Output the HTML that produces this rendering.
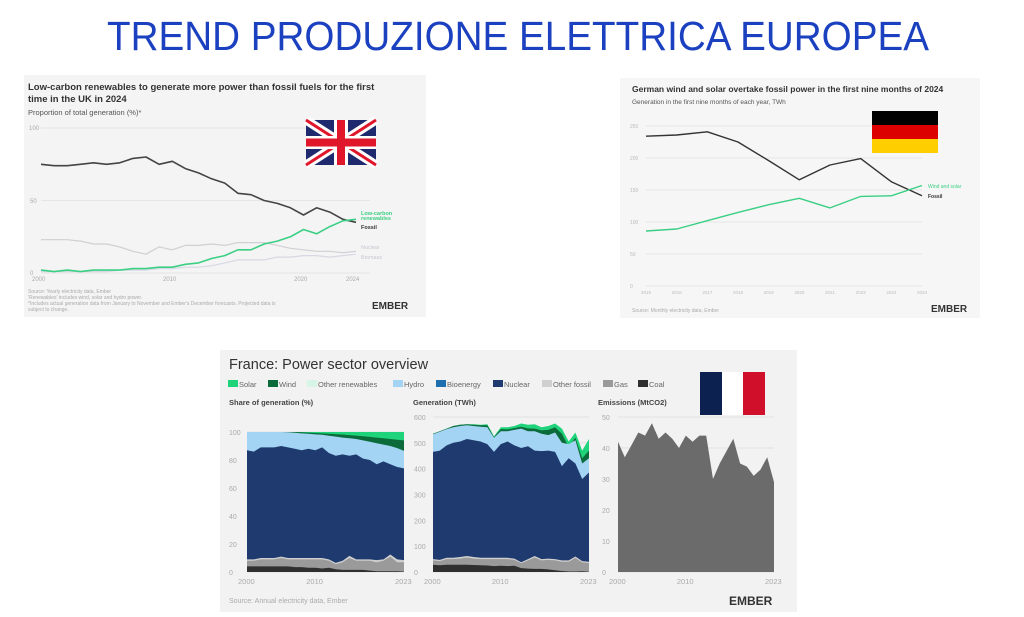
<!DOCTYPE html>
<html><head><meta charset="utf-8"><style>
html,body{margin:0;padding:0;background:#fff;}
svg{display:block;font-family:"Liberation Sans",sans-serif;}
</style></head><body>
<svg id="s" width="1024" height="617" viewBox="0 0 1024 617" xmlns="http://www.w3.org/2000/svg">
<rect width="1024" height="617" fill="#fff"/>
<text x="518" y="50" text-anchor="middle" font-size="41" fill="#1b40c0" textLength="822" lengthAdjust="spacingAndGlyphs">TREND PRODUZIONE ELETTRICA EUROPEA</text>

<rect x="24" y="75" width="402" height="242" fill="#f4f4f4"/>
<text x="28" y="90" font-size="9.5" font-weight="bold" fill="#333">Low-carbon renewables to generate more power than fossil fuels for the first</text>
<text x="28" y="102" font-size="9.5" font-weight="bold" fill="#333">time in the UK in 2024</text>
<text x="28" y="115" font-size="7.5" fill="#555">Proportion of total generation (%)*</text>
<g stroke="#e0e0e0" stroke-width="0.8"><line x1="41" y1="128" x2="370" y2="128"/><line x1="41" y1="200.5" x2="370" y2="200.5"/><line x1="41" y1="273" x2="370" y2="273"/></g>
<g font-size="6" fill="#aaa"><text x="29" y="130">100</text><text x="30" y="203">50</text><text x="30" y="275">0</text>
<text x="32" y="281">2000</text><text x="163" y="281">2010</text><text x="294" y="281">2020</text><text x="346" y="281">2024</text></g>
<g id="uk"></g>
<g font-size="5.5" font-weight="bold"><text x="361" y="215" fill="#3bcf84">Low-carbon</text><text x="361" y="220" fill="#3bcf84">renewables</text><text x="361" y="229" fill="#333">Fossil</text></g>
<g font-size="5.5" fill="#c8c8d0"><text x="361" y="249">Nuclear</text><text x="361" y="259">Biomass</text></g>
<g font-size="5" fill="#aaa"><text x="28" y="293">Source: Yearly electricity data, Ember</text><text x="28" y="299">'Renewables' includes wind, solar and hydro power.</text><text x="28" y="305">*Includes actual generation data from January to November and Ember's December forecasts. Projected data is</text><text x="28" y="311">subject to change.</text></g>
<text x="372" y="309" font-size="10" font-weight="bold" fill="#333">EMBER</text>
<g transform="translate(306,120)">
<rect width="70" height="45" fill="#1f2a6e"/>
<path d="M0 0L70 45M70 0L0 45" stroke="#fff" stroke-width="9"/>
<path d="M0 0L70 45M70 0L0 45" stroke="#e0162b" stroke-width="3"/>
<rect x="28" width="14" height="45" fill="#fff"/><rect y="16" width="70" height="13" fill="#fff"/>
<rect x="31" width="8" height="45" fill="#e0162b"/><rect y="18.5" width="70" height="8" fill="#e0162b"/>
</g>

<rect x="620" y="78" width="360" height="240" fill="#f6f6f6"/>
<text x="632" y="92" font-size="8.5" font-weight="bold" fill="#333">German wind and solar overtake fossil power in the first nine months of 2024</text>
<text x="632" y="104" font-size="6.5" fill="#555">Generation in the first nine months of each year, TWh</text>
<g id="deg" stroke="#e2e2e2" stroke-width="0.8"></g>
<g id="de"></g>
<g font-size="5" fill="#3bcf84"><text x="928" y="188">Wind and solar</text></g>
<text x="928" y="198" font-size="5" font-weight="bold" fill="#333">Fossil</text>
<text x="632" y="312" font-size="5" fill="#aaa">Source: Monthly electricity data, Ember</text>
<text x="931" y="312" font-size="10" font-weight="bold" fill="#333">EMBER</text>
<g transform="translate(872,111)"><rect width="66" height="14" fill="#000"/><rect y="14" width="66" height="14" fill="#dd0000"/><rect y="28" width="66" height="14" fill="#ffce00"/></g>

<rect x="220" y="350" width="577" height="262" fill="#f2f2f2"/>
<text x="229" y="369" font-size="14.5" fill="#333">France: Power sector overview</text>
<g font-size="7.5" fill="#666" id="leg"></g>
<g font-size="7.5" font-weight="bold" fill="#444"><text x="229" y="405">Share of generation (%)</text><text x="413" y="405">Generation (TWh)</text><text x="598" y="405">Emissions (MtCO2)</text></g>
<g id="fr"></g>
<text x="229" y="603" font-size="7" fill="#aaa">Source: Annual electricity data, Ember</text>
<text x="729" y="605" font-size="12" font-weight="bold" fill="#333">EMBER</text>
<g transform="translate(700,372)"><rect width="22" height="43" fill="#0d2150"/><rect x="22" width="21" height="43" fill="#fff"/><rect x="43" width="22" height="43" fill="#d0102a"/></g>
</svg>
<script>
var NS="http://www.w3.org/2000/svg";
function el(p,t,a,txt){var e=document.createElementNS(NS,t);for(var k in a)e.setAttribute(k,a[k]);if(txt!==undefined)e.textContent=txt;document.getElementById(p).appendChild(e);return e;}
function line(p,vals,x0,x1,y0,y1,max,col,w){var n=vals.length,pts=vals.map(function(v,i){return (x0+(x1-x0)*i/(n-1)).toFixed(1)+","+(y0-(y0-y1)*v/max).toFixed(1)}).join(" ");el(p,"polyline",{points:pts,fill:"none",stroke:col,"stroke-width":w,"stroke-linejoin":"round"});}
var ukF=[75,74,74,75,76,75,76,79,80,75,77,72,69,65,62,55,54,50,48,45,40,45,42,37,35];
var ukR=[2,1,2,1,2,2,2,3,3,4,4,6,7,10,12,16,16,20,22,25,30,27,32,36,37];
var ukN=[23,23,23,22,20,20,18,15,13,18,16,19,19,20,19,21,21,21,19,17,16,15,15,14,15];
var ukB=[1,1,1,1,1,1,2,2,2,3,3,4,4,5,7,9,9,9,11,11,12,12,11,12,13];
line("uk",ukB,41,356,273,128,100,"#d6d8e4",1.2);
line("uk",ukN,41,356,273,128,100,"#cfcfd4",1.2);
line("uk",ukF,41,356,273,128,100,"#444",1.6);
line("uk",ukR,41,356,273,128,100,"#3bcf84",1.6);
[0,50,100,150,200,250].forEach(function(v){var y=286-v*0.64;el("deg","line",{x1:646,x2:922,y1:y,y2:y});el("de","text",{x:630,y:y+2,"font-size":5,fill:"#bbb"},v);});
for(var i=0;i<10;i++)el("de","text",{x:646+i*30.67-5,y:294,"font-size":4.5,fill:"#bbb"},2015+i);
line("de",[234,236,241,225,196,166,189,199,163,141],646,922,286,126,250,"#333",1.4);
line("de",[86,89,102,115,127,137,122,140,141,157],646,922,286,126,250,"#3bcf84",1.4);
var L=[["Solar","#1fd37a",228],["Wind","#0b6b3a",268],["Other renewables","#d6f5e6",307],["Hydro","#a4d4f4",393],["Bioenergy","#1d6fb0",436],["Nuclear","#1e3a6e",493],["Other fossil","#cfcfcf",542],["Gas","#9a9a9a",603],["Coal","#2f2f2f",638]];
L.forEach(function(d){el("leg","rect",{x:d[2],y:380,width:10,height:7,fill:d[1]});el("leg","text",{x:d[2]+11,y:387},d[0]);});
function area(x0,x1,y0,y1,max,lo,hi,col){var n=hi.length,s="";for(var i=0;i<n;i++)s+=(x0+(x1-x0)*i/(n-1)).toFixed(1)+","+(y0-(y0-y1)*hi[i]/max).toFixed(1)+" ";for(var i=n-1;i>=0;i--)s+=(x0+(x1-x0)*i/(n-1)).toFixed(1)+","+(y0-(y0-y1)*(lo?lo[i]:0)/max).toFixed(1)+" ";el("fr","polygon",{points:s,fill:col});}
function axes(x0,x1,y0,y1,ticks,max,lx){ticks.forEach(function(v){var y=y0-(y0-y1)*v/max;el("fr","line",{x1:x0,x2:x1,y1:y,y2:y,stroke:"#ddd","stroke-width":0.8});el("fr","text",{x:lx,y:y+3,"font-size":7,fill:"#aaa"},v);});
el("fr","text",{x:x0-9,y:584,"font-size":7.5,fill:"#aaa"},"2000");el("fr","text",{x:x0+(x1-x0)*10/23-9,y:584,"font-size":7.5,fill:"#aaa"},"2010");el("fr","text",{x:x1-9,y:584,"font-size":7.5,fill:"#aaa"},"2023");}
var sCoal=[4,4,4,4,4,4,4,3.5,3.5,3,3,2.5,3,2,1.5,1.5,1.5,1.5,1,0.5,0.5,0.5,0.5,0.3];
var sGas=[8,8,9,9,9,10,9,9,9,9,9,9,8,5.5,7,10,8,8,8,7,8,11,7,7];
var sOF=[9,9,10,10,10,11,10,10,10,10,10,10,9,6.5,8,11.5,9,9,9,8.5,9,12.5,9,8.5];
var sNuc=[87,86,89,89,89,90,89,88,87,88,87,89,85,83,84,83,84,81,80,77,79,77,75,74];
var sHyd=[100,100,100,100,100,100,99.8,99.5,99,98.8,98.3,98,97.3,96.7,96,95.5,95,94,93,92,91,90,88.5,86.5];
var sWind=[100,100,100,100,100,100,100,100,99.8,99.6,99.3,99,98.8,98.5,98.2,97.8,97.4,97,96.5,96,95.5,95,94.5,94];
var X0=247,X1=404,Y0=572,Y1=432;
axes(X0,X1,Y0,Y1,[0,20,40,60,80,100],100,229);
area(X0,X1,Y0,Y1,100,null,new Array(24).fill(100),"#1fd37a");
area(X0,X1,Y0,Y1,100,null,sWind,"#0b6b3a");
area(X0,X1,Y0,Y1,100,null,sHyd,"#a4d4f4");
area(X0,X1,Y0,Y1,100,null,sNuc,"#1e3a6e");
area(X0,X1,Y0,Y1,100,null,sOF,"#cfcfcf");
area(X0,X1,Y0,Y1,100,null,sGas,"#9a9a9a");
area(X0,X1,Y0,Y1,100,null,sCoal,"#2f2f2f");
var tot=[535,545,555,565,570,572,572,570,572,525,560,560,565,575,570,572,560,565,575,555,505,540,470,515];
var gW=[535,545,555,565,570,572,570,568,568,522,553,552,557,562,556,555,548,550,560,535,485,520,440,470];
var gH=[533,543,553,560,565,568,565,562,560,520,545,545,550,555,545,545,535,530,540,500,495,510,420,440];
var gN=[465,470,490,500,505,515,510,505,495,465,495,505,490,480,487,470,468,470,465,410,440,420,360,385];
var gO=[50,47,55,55,58,62,58,55,55,55,55,55,52,38,50,62,50,52,50,45,45,60,42,40];
var gG=[45,42,50,50,52,56,52,50,50,50,50,50,47,34,45,56,45,47,45,40,40,54,37,35];
var gC=[28,26,28,28,28,28,27,26,25,23,24,23,24,15,13,12,12,10,7,4,2,2,3,1];
X0=433;X1=589;Y0=572;Y1=417;
axes(X0,X1,Y0,Y1,[0,100,200,300,400,500,600],600,414);
area(X0,X1,Y0,Y1,600,null,tot,"#1fd37a");
area(X0,X1,Y0,Y1,600,null,gW,"#0b6b3a");
area(X0,X1,Y0,Y1,600,null,gH,"#a4d4f4");
area(X0,X1,Y0,Y1,600,null,gN,"#1e3a6e");
area(X0,X1,Y0,Y1,600,null,gO,"#cfcfcf");
area(X0,X1,Y0,Y1,600,null,gG,"#9a9a9a");
area(X0,X1,Y0,Y1,600,null,gC,"#2f2f2f");
X0=618;X1=774;
axes(X0,X1,Y0,Y1,[0,10,20,30,40,50],50,602);
area(X0,X1,Y0,Y1,50,null,[42,37,41,45,44,48,43,45,43,40,44,42,44,44,30,35,39,43,35,34,31,33,37,29],"#6b6b6b");
</script>
</body></html>
